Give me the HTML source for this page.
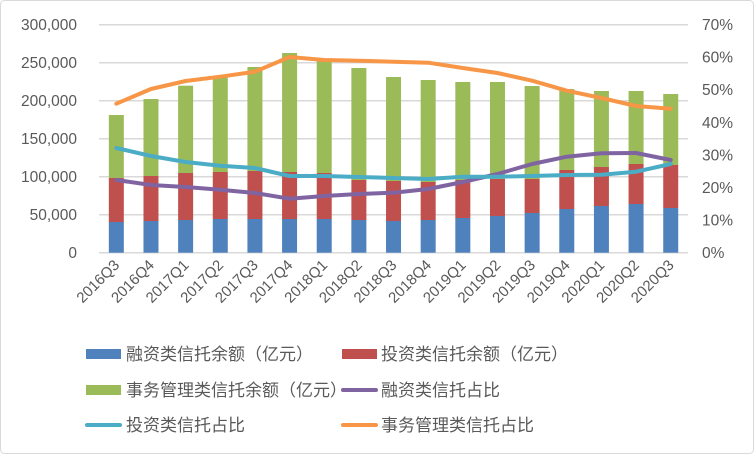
<!DOCTYPE html>
<html><head><meta charset="utf-8"><style>
html,body{margin:0;padding:0;background:#fff}
svg{display:block}
text{font-family:"Liberation Sans","Noto Sans CJK SC",sans-serif;fill:#595959}
</style></head><body>
<svg width="754" height="454" viewBox="0 0 754 454" xmlns="http://www.w3.org/2000/svg">
<rect x="0.5" y="0.5" width="753" height="453" rx="4" fill="#fff" stroke="#d9d9d9"/>
<g stroke="#d9d9d9" stroke-width="1.5">
<line x1="99" x2="688" y1="24.7" y2="24.7"/>
<line x1="99" x2="688" y1="62.7" y2="62.7"/>
<line x1="99" x2="688" y1="100.7" y2="100.7"/>
<line x1="99" x2="688" y1="138.7" y2="138.7"/>
<line x1="99" x2="688" y1="176.7" y2="176.7"/>
<line x1="99" x2="688" y1="214.7" y2="214.7"/>
<line x1="99" x2="688" y1="252.7" y2="252.7"/>
</g>
<g font-size="15.5" text-anchor="end">
<text x="77" y="30">300,000</text><text x="77" y="68">250,000</text><text x="77" y="106">200,000</text>
<text x="77" y="144">150,000</text><text x="77" y="182">100,000</text><text x="77" y="220">50,000</text><text x="77" y="258">0</text>
</g>
<g font-size="15.5">
<text x="702" y="30">70%</text><text x="702" y="62.6">60%</text><text x="702" y="95.2">50%</text>
<text x="702" y="127.8">40%</text><text x="702" y="160.4">30%</text><text x="702" y="193">20%</text><text x="702" y="225.6">10%</text><text x="702" y="258">0%</text>
</g>
<g id="bars"></g>
<g fill="none" stroke-width="4" stroke-linecap="round" stroke-linejoin="round">
<polyline id="pur" stroke="#8064a2"/>
<polyline id="cya" stroke="#4bacc6"/>
<polyline id="ora" stroke="#f79646"/>
</g>
<g id="xl" font-size="15" text-anchor="end"></g>
<g font-size="17">
<rect x="86" y="349" width="35" height="10" fill="#4f81bd"/><text x="126" y="360">融资类信托余额（亿元）</text>
<rect x="342" y="349" width="35" height="10" fill="#c0504d"/><text x="381" y="360">投资类信托余额（亿元）</text>
<rect x="86" y="385" width="35" height="10" fill="#9bbb59"/><text x="126" y="396">事务管理类信托余额（亿元）</text>
<line x1="343" x2="376" y1="390" y2="390" stroke="#8064a2" stroke-width="4" stroke-linecap="round"/><text x="381" y="396">融资类信托占比</text>
<line x1="87" x2="120" y1="425" y2="425" stroke="#4bacc6" stroke-width="4" stroke-linecap="round"/><text x="126" y="431">投资类信托占比</text>
<line x1="343" x2="376" y1="425" y2="425" stroke="#f79646" stroke-width="4" stroke-linecap="round"/><text x="381" y="431">事务管理类信托占比</text>
</g>
</svg>
<script>
var b=[222,221,220,219,219,219,219,220,221,220,218,216,213,209,206,204,208];
var r=[178,176,173,172,171,172,173,180,181,182,180,179,179,170,167,164,165];
var g=[115,99,85.7,77,67,53,60,68,77,80,82,82,86,89,91,91,94];
var o=[103.7,89,81,76.7,71.7,57,60,60.7,61.7,62.7,68,73,80.7,90.7,98,106,108.7];
var c=[148,156,162,165.7,168,176,176,177,178,179,176.7,176.7,176,175,174.7,171.7,164];
var p=[180,185,187,189.7,193,198.7,196,194,192.7,189,182,174,164,156.7,153.3,153,160];
var labs=["2016Q3","2016Q4","2017Q1","2017Q2","2017Q3","2017Q4","2018Q1","2018Q2","2018Q3","2018Q4","2019Q1","2019Q2","2019Q3","2019Q4","2020Q1","2020Q2","2020Q3"];
var ns="http://www.w3.org/2000/svg",B=document.getElementById("bars"),X=document.getElementById("xl");
function rc(x,y1,y2,f){var e=document.createElementNS(ns,"rect");e.setAttribute("x",x);e.setAttribute("y",y1);e.setAttribute("width",15);e.setAttribute("height",y2-y1);e.setAttribute("fill",f);B.appendChild(e);}
var po="",pc="",pp="";
for(var i=0;i<17;i++){var cx=99+34.65*(i+0.5);
rc(cx-7.5,b[i],252.7,"#4f81bd");rc(cx-7.5,r[i],b[i],"#c0504d");rc(cx-7.5,g[i],r[i],"#9bbb59");
po+=cx+","+o[i]+" ";pc+=cx+","+c[i]+" ";pp+=cx+","+p[i]+" ";
var t=document.createElementNS(ns,"text");t.setAttribute("transform","translate("+(cx+4)+",266) rotate(-45)");t.textContent=labs[i];X.appendChild(t);}
document.getElementById("ora").setAttribute("points",po);
document.getElementById("cya").setAttribute("points",pc);
document.getElementById("pur").setAttribute("points",pp);
</script>
</body></html>
